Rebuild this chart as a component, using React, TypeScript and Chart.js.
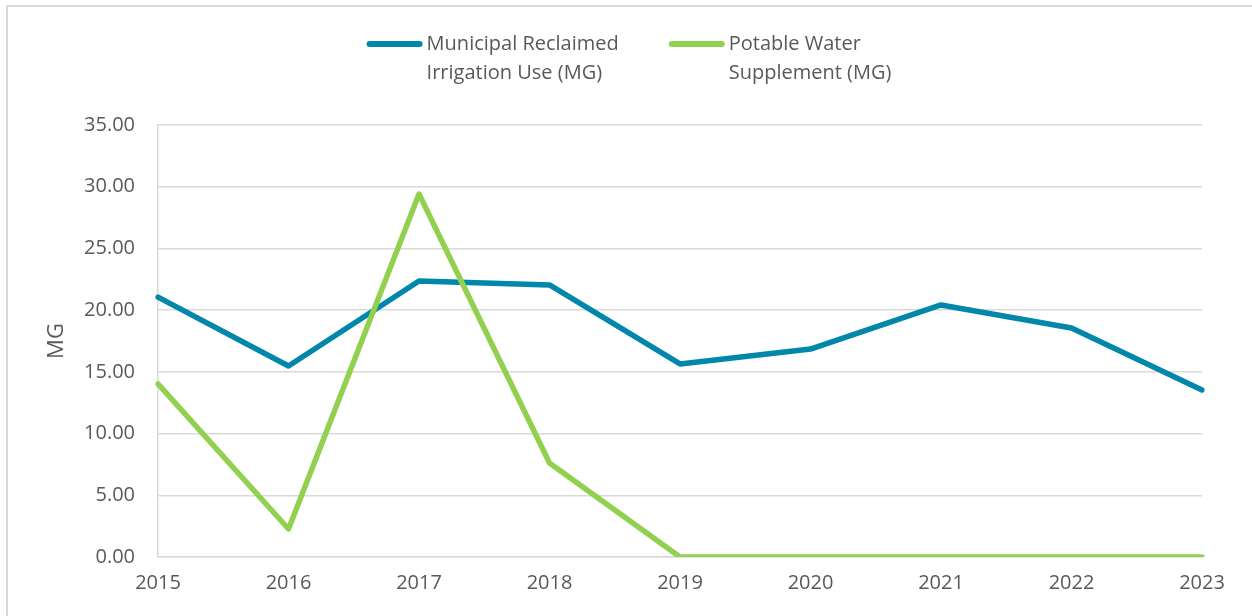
import React, { useEffect, useRef } from "react";
import { Chart, registerables } from "chart.js";

Chart.register(...registerables);

const years = ["2015", "2016", "2017", "2018", "2019", "2020", "2021", "2022", "2023"];
const reclaimedIrrigationUse = [21.06, 15.47, 22.36, 22.04, 15.64, 16.85, 20.42, 18.55, 13.53];
const potableWaterSupplement = [14.02, 2.27, 29.41, 7.62, 0, 0, 0, 0, 0];
const reclaimedLegendLines = ["Municipal Reclaimed", "Irrigation Use (MG)"];
const potableLegendLines = ["Potable Water", "Supplement (MG)"];
const yAxisTitle = "MG";
const yMin = 0;
const yMax = 35;
const yStep = 5;

const FONT = "'Open Sans', 'Noto Sans', sans-serif";
const TEXT = "#595959";
const GRID = "#d9d9d9";
const BLUE = "#0087aa";
const GREEN = "#92d050";

const wrapLegend = {
  id: "wrapLegend",
  afterDraw(chart: any) {
    const ctx = chart.ctx as CanvasRenderingContext2D;
    const items = chart.data.datasets.map((ds: any) => ({
      lines: ds.legendLines as string[],
      color: ds.borderColor as string,
    }));
    ctx.save();
    ctx.font = `20px ${FONT}`;
    const sample = 56;
    const gapText = 4;
    const itemGap = 50;
    const widths = items.map((it: any) =>
      Math.max(...it.lines.map((l: string) => ctx.measureText(l).width))
    );
    const total =
      widths.reduce((a: number, w: number) => a + sample + gapText + w, 0) +
      itemGap * (items.length - 1);
    let x = chart.width / 2 + 3 - total / 2;
    const y1 = 44;
    const lh = 29;
    items.forEach((it: any, i: number) => {
      ctx.strokeStyle = it.color;
      ctx.lineWidth = 6;
      ctx.lineCap = "round";
      ctx.beginPath();
      ctx.moveTo(x + 3, y1);
      ctx.lineTo(x + sample - 3, y1);
      ctx.stroke();
      ctx.fillStyle = TEXT;
      ctx.textAlign = "left";
      ctx.textBaseline = "middle";
      it.lines.forEach((l: string, j: number) => {
        ctx.fillText(l, x + sample + gapText, y1 + j * lh);
      });
      x += sample + gapText + widths[i] + itemGap;
    });
    ctx.restore();
  },
};

export default function App() {
  const ref = useRef<HTMLCanvasElement | null>(null);

  useEffect(() => {
    if (!ref.current) return;
    const chart = new Chart(ref.current, {
      type: "line",
      data: {
        labels: years,
        datasets: [
          {
            label: reclaimedLegendLines.join(" "),
            legendLines: reclaimedLegendLines,
            data: reclaimedIrrigationUse,
            borderColor: BLUE,
            backgroundColor: BLUE,
            borderWidth: 5.5,
            pointRadius: 0,
            tension: 0,
            borderCapStyle: "round",
            borderJoinStyle: "round",
            order: 1,
          } as any,
          {
            label: potableLegendLines.join(" "),
            legendLines: potableLegendLines,
            data: potableWaterSupplement,
            borderColor: GREEN,
            backgroundColor: GREEN,
            borderWidth: 5.5,
            pointRadius: 0,
            tension: 0,
            borderCapStyle: "round",
            borderJoinStyle: "round",
            order: 0,
          } as any,
        ],
      },
      options: {
        responsive: false,
        animation: false,
        layout: { padding: { top: 125, left: 0, right: 50, bottom: 0 } },
        plugins: {
          legend: { display: false },
          tooltip: { enabled: false },
        },
        scales: {
          x: {
            offset: false,
            grid: { display: false, drawTicks: false },
            border: { display: true, color: GRID, width: 1.5 },
            ticks: {
              color: TEXT,
              font: { family: FONT, size: 20 },
              padding: 14,
              autoSkip: false,
              maxRotation: 0,
            },
            afterFit(scale: any) {
              scale.height = 59;
            },
          },
          y: {
            min: yMin,
            max: yMax,
            grid: { color: GRID, lineWidth: 1.5, drawTicks: false },
            border: { display: true, color: GRID, width: 1.5 },
            ticks: {
              stepSize: yStep,
              color: TEXT,
              font: { family: FONT, size: 20 },
              padding: 23,
              callback: (v: any) => Number(v).toFixed(2),
            },
            title: {
              display: true,
              text: yAxisTitle,
              color: TEXT,
              font: { family: FONT, size: 22 },
              padding: { top: 44, bottom: 0 },
            },
            afterFit(scale: any) {
              scale.width = 158;
            },
          },
        },
      },
      plugins: [wrapLegend],
    });
    return () => chart.destroy();
  }, []);

  return (
    <div style={{ position: "fixed", left: 0, top: 0, width: 1252, height: 616, overflow: "hidden", background: "#fff" }}>
      <div
        style={{
          position: "absolute",
          left: 6,
          top: 5,
          width: 1400,
          height: 800,
          border: `2px solid ${GRID}`,
          boxSizing: "border-box",
        }}
      />
      <canvas
        ref={ref}
        width={1252}
        height={616}
        style={{ position: "absolute", left: 0, top: 0, display: "block" }}
      />
    </div>
  );
}
